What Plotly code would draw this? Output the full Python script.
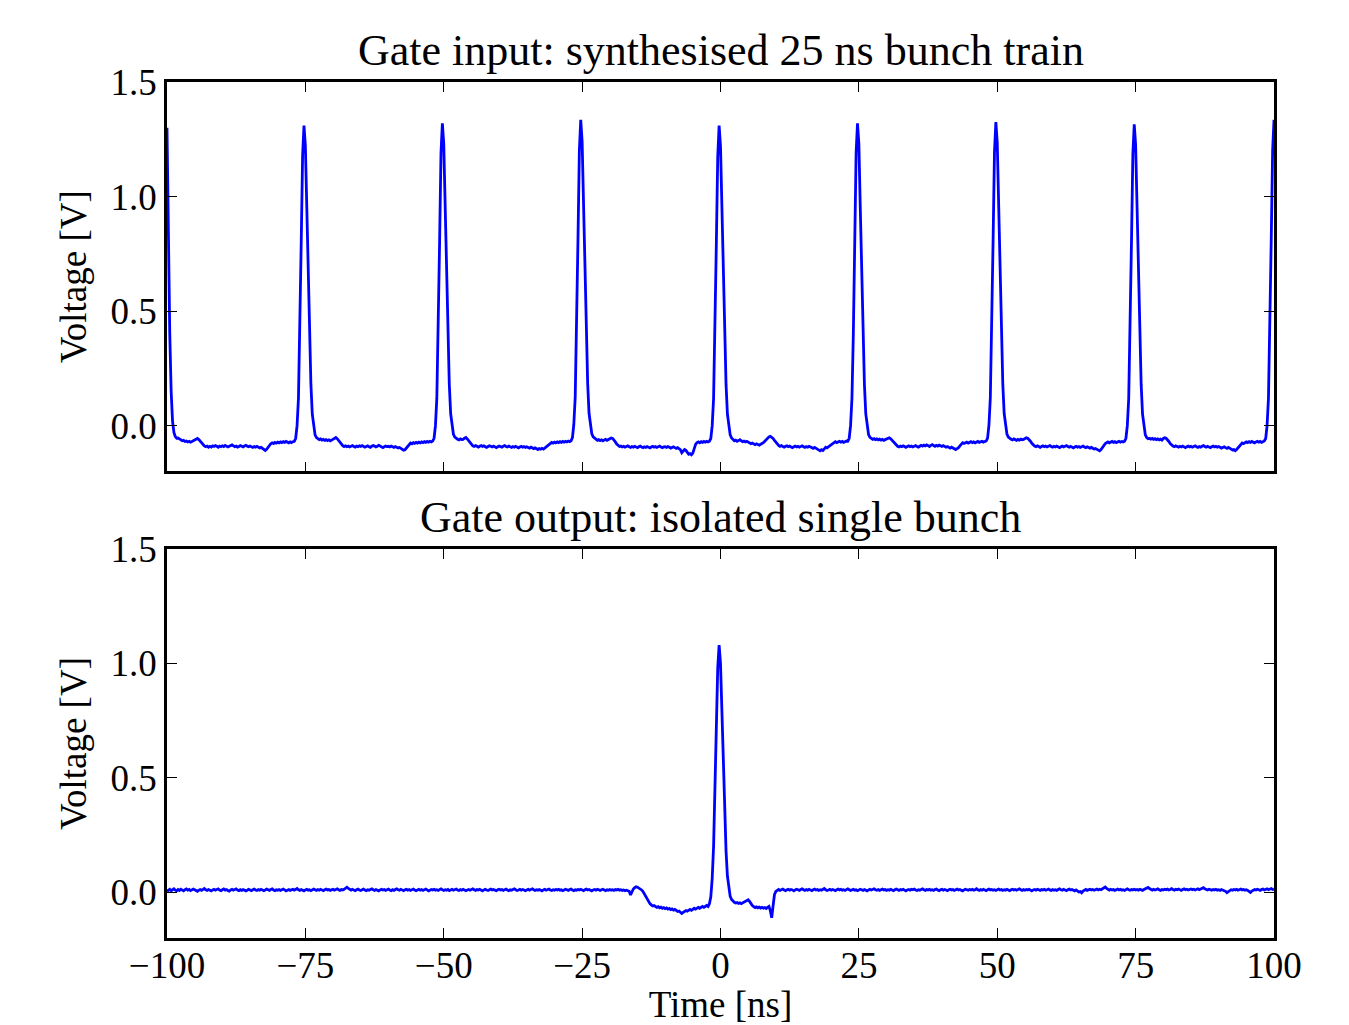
import plotly.graph_objects as go

# oscilloscope traces, sampled every 0.25 ns from -100 ns to +100 ns
time_start = -100.0
time_step = 0.25

# gate input: 25 ns bunch train [V]
volt_input = [
    1.300, 0.800, 0.400, 0.150, 0.020, -0.030, -0.048, -0.055, -0.054, -0.058, -0.062, -0.066, -0.064, -0.069, -0.067, -0.071, -0.068, -0.072, -0.069, -0.066,
    -0.063, -0.058, -0.056, -0.061, -0.068, -0.077, -0.084, -0.088, -0.092, -0.089, -0.094, -0.090, -0.093, -0.088, -0.091, -0.087, -0.090, -0.094, -0.089, -0.092,
    -0.088, -0.091, -0.086, -0.089, -0.093, -0.090, -0.087, -0.084, -0.088, -0.092, -0.089, -0.094, -0.091, -0.087, -0.090, -0.093, -0.089, -0.086, -0.090, -0.092,
    -0.089, -0.092, -0.095, -0.091, -0.094, -0.090, -0.093, -0.097, -0.095, -0.099, -0.104, -0.108, -0.103, -0.094, -0.085, -0.079, -0.075, -0.078, -0.073, -0.076,
    -0.072, -0.075, -0.071, -0.074, -0.070, -0.073, -0.069, -0.072, -0.075, -0.071, -0.074, -0.070, -0.068, -0.055, 0.000, 0.120, 0.400, 0.800, 1.180, 1.310,
    1.220, 0.950, 0.650, 0.380, 0.180, 0.050, -0.010, -0.040, -0.052, -0.058, -0.061, -0.058, -0.063, -0.060, -0.064, -0.061, -0.065, -0.062, -0.066, -0.063,
    -0.059, -0.054, -0.052, -0.057, -0.065, -0.074, -0.082, -0.087, -0.091, -0.088, -0.092, -0.089, -0.093, -0.090, -0.087, -0.091, -0.094, -0.089, -0.092, -0.088,
    -0.091, -0.087, -0.090, -0.094, -0.091, -0.088, -0.092, -0.095, -0.090, -0.087, -0.089, -0.093, -0.090, -0.086, -0.089, -0.092, -0.096, -0.092, -0.089, -0.091,
    -0.090, -0.093, -0.089, -0.092, -0.095, -0.091, -0.094, -0.097, -0.095, -0.099, -0.103, -0.107, -0.105, -0.097, -0.088, -0.080, -0.076, -0.079, -0.074, -0.077,
    -0.073, -0.076, -0.072, -0.075, -0.071, -0.074, -0.070, -0.073, -0.069, -0.072, -0.068, -0.071, -0.067, -0.055, 0.000, 0.120, 0.400, 0.800, 1.190, 1.320,
    1.230, 0.960, 0.660, 0.385, 0.182, 0.052, -0.008, -0.038, -0.050, -0.056, -0.059, -0.062, -0.058, -0.061, -0.060, -0.055, -0.052, -0.058, -0.066, -0.075,
    -0.082, -0.088, -0.091, -0.087, -0.090, -0.094, -0.090, -0.087, -0.091, -0.088, -0.092, -0.095, -0.091, -0.088, -0.090, -0.093, -0.089, -0.092, -0.096, -0.092,
    -0.089, -0.091, -0.094, -0.090, -0.087, -0.091, -0.093, -0.089, -0.092, -0.095, -0.091, -0.094, -0.090, -0.093, -0.097, -0.093, -0.090, -0.094, -0.091, -0.095,
    -0.092, -0.095, -0.098, -0.094, -0.097, -0.100, -0.097, -0.101, -0.104, -0.100, -0.103, -0.099, -0.102, -0.098, -0.093, -0.086, -0.080, -0.076, -0.073, -0.076,
    -0.072, -0.075, -0.071, -0.074, -0.070, -0.073, -0.069, -0.072, -0.068, -0.071, -0.067, -0.070, -0.066, -0.052, 0.005, 0.125, 0.405, 0.810, 1.200, 1.335,
    1.240, 0.965, 0.665, 0.390, 0.185, 0.054, -0.006, -0.036, -0.049, -0.055, -0.060, -0.064, -0.061, -0.065, -0.062, -0.066, -0.063, -0.060, -0.064, -0.061,
    -0.057, -0.054, -0.056, -0.062, -0.071, -0.080, -0.087, -0.091, -0.089, -0.093, -0.090, -0.094, -0.091, -0.088, -0.092, -0.095, -0.091, -0.094, -0.090, -0.093,
    -0.096, -0.092, -0.089, -0.093, -0.096, -0.092, -0.095, -0.091, -0.094, -0.097, -0.093, -0.090, -0.094, -0.091, -0.095, -0.092, -0.089, -0.093, -0.096, -0.093,
    -0.092, -0.095, -0.091, -0.094, -0.098, -0.095, -0.092, -0.096, -0.099, -0.096, -0.100, -0.105, -0.118, -0.112, -0.104, -0.108, -0.118, -0.125, -0.122, -0.127,
    -0.120, -0.100, -0.082, -0.074, -0.071, -0.075, -0.070, -0.073, -0.069, -0.072, -0.068, -0.071, -0.068, -0.056, 0.000, 0.118, 0.395, 0.795, 1.175, 1.310,
    1.220, 0.950, 0.650, 0.380, 0.180, 0.050, -0.010, -0.040, -0.054, -0.060, -0.066, -0.063, -0.068, -0.065, -0.061, -0.066, -0.070, -0.067, -0.071, -0.068,
    -0.072, -0.076, -0.079, -0.076, -0.080, -0.083, -0.079, -0.082, -0.085, -0.081, -0.078, -0.074, -0.068, -0.060, -0.054, -0.049, -0.047, -0.050, -0.056, -0.064,
    -0.072, -0.080, -0.086, -0.090, -0.087, -0.091, -0.094, -0.090, -0.088, -0.092, -0.089, -0.093, -0.096, -0.092, -0.089, -0.093, -0.090, -0.094, -0.091, -0.088,
    -0.092, -0.095, -0.091, -0.094, -0.090, -0.093, -0.096, -0.099, -0.095, -0.098, -0.102, -0.106, -0.110, -0.105, -0.108, -0.101, -0.094, -0.097, -0.092, -0.087,
    -0.081, -0.076, -0.073, -0.070, -0.074, -0.071, -0.068, -0.072, -0.069, -0.073, -0.070, -0.067, -0.068, -0.055, 0.000, 0.120, 0.400, 0.805, 1.190, 1.320,
    1.230, 0.955, 0.655, 0.382, 0.181, 0.051, -0.009, -0.039, -0.051, -0.057, -0.060, -0.057, -0.061, -0.058, -0.062, -0.059, -0.063, -0.060, -0.064, -0.061,
    -0.058, -0.055, -0.053, -0.057, -0.064, -0.073, -0.081, -0.087, -0.090, -0.093, -0.089, -0.092, -0.088, -0.091, -0.095, -0.091, -0.088, -0.092, -0.089, -0.093,
    -0.090, -0.087, -0.091, -0.094, -0.090, -0.086, -0.089, -0.085, -0.088, -0.084, -0.087, -0.091, -0.086, -0.083, -0.087, -0.090, -0.086, -0.089, -0.085, -0.088,
    -0.091, -0.087, -0.090, -0.094, -0.091, -0.095, -0.098, -0.094, -0.097, -0.101, -0.104, -0.100, -0.096, -0.088, -0.080, -0.075, -0.078, -0.074, -0.072, -0.076,
    -0.073, -0.070, -0.074, -0.071, -0.075, -0.072, -0.069, -0.073, -0.070, -0.068, -0.072, -0.069, -0.067, -0.054, 0.002, 0.122, 0.402, 0.808, 1.195, 1.325,
    1.235, 0.958, 0.658, 0.384, 0.183, 0.053, -0.007, -0.037, -0.050, -0.056, -0.059, -0.062, -0.058, -0.061, -0.064, -0.060, -0.063, -0.059, -0.062, -0.060,
    -0.057, -0.053, -0.055, -0.060, -0.068, -0.077, -0.084, -0.089, -0.092, -0.088, -0.091, -0.095, -0.091, -0.088, -0.092, -0.089, -0.093, -0.090, -0.087, -0.091,
    -0.094, -0.090, -0.093, -0.089, -0.092, -0.096, -0.092, -0.089, -0.093, -0.090, -0.087, -0.091, -0.094, -0.090, -0.093, -0.097, -0.093, -0.090, -0.094, -0.091,
    -0.095, -0.092, -0.089, -0.093, -0.096, -0.092, -0.095, -0.098, -0.095, -0.099, -0.102, -0.100, -0.104, -0.107, -0.110, -0.104, -0.095, -0.086, -0.079, -0.074,
    -0.071, -0.075, -0.072, -0.069, -0.073, -0.070, -0.074, -0.071, -0.068, -0.072, -0.069, -0.071, -0.068, -0.055, 0.000, 0.118, 0.398, 0.800, 1.185, 1.315,
    1.225, 0.952, 0.652, 0.381, 0.180, 0.050, -0.010, -0.040, -0.052, -0.057, -0.055, -0.059, -0.056, -0.060, -0.057, -0.061, -0.058, -0.062, -0.059, -0.063,
    -0.056, -0.053, -0.055, -0.061, -0.069, -0.078, -0.085, -0.089, -0.092, -0.088, -0.091, -0.094, -0.090, -0.093, -0.089, -0.092, -0.096, -0.092, -0.089, -0.093,
    -0.090, -0.094, -0.091, -0.088, -0.092, -0.095, -0.091, -0.094, -0.090, -0.087, -0.091, -0.094, -0.090, -0.093, -0.096, -0.092, -0.089, -0.093, -0.090, -0.094,
    -0.091, -0.094, -0.098, -0.095, -0.092, -0.096, -0.099, -0.095, -0.098, -0.102, -0.106, -0.104, -0.109, -0.104, -0.096, -0.087, -0.080, -0.076, -0.079, -0.074,
    -0.071, -0.074, -0.070, -0.073, -0.069, -0.072, -0.075, -0.071, -0.068, -0.072, -0.069, -0.073, -0.070, -0.067, -0.056, 0.000, 0.120, 0.400, 0.810, 1.200,
    1.335,
]

# gate output: isolated single bunch [V]
volt_output = [
    0.004, 0.009, 0.013, 0.007, 0.011, 0.015, 0.009, 0.006, 0.012, 0.008, 0.013, 0.010, 0.006, 0.011, 0.014, 0.009, 0.012, 0.007, 0.010, 0.014,
    0.011, 0.007, 0.004, 0.009, 0.012, 0.008, 0.013, 0.016, 0.011, 0.008, 0.012, 0.009, 0.006, 0.010, 0.013, 0.009, 0.011, 0.015, 0.010, 0.007,
    0.011, 0.014, 0.009, 0.012, 0.008, 0.005, 0.010, 0.013, 0.009, 0.012, 0.015, 0.010, 0.007, 0.011, 0.008, 0.012, 0.010, 0.006, 0.009, 0.013,
    0.010, 0.007, 0.011, 0.014, 0.010, 0.008, 0.012, 0.009, 0.013, 0.011, 0.007, 0.010, 0.014, 0.011, 0.008, 0.012, 0.015, 0.010, 0.007, 0.011,
    0.009, 0.012, 0.008, 0.011, 0.014, 0.010, 0.006, 0.009, 0.012, 0.008, 0.011, 0.013, 0.009, 0.012, 0.016, 0.011, 0.008, 0.012, 0.009, 0.006,
    0.010, 0.013, 0.009, 0.011, 0.007, 0.010, 0.014, 0.011, 0.008, 0.012, 0.009, 0.013, 0.010, 0.007, 0.011, 0.014, 0.010, 0.012, 0.008, 0.011,
    0.013, 0.009, 0.012, 0.015, 0.011, 0.008, 0.012, 0.010, 0.013, 0.016, 0.022, 0.017, 0.012, 0.009, 0.013, 0.010, 0.007, 0.011, 0.014, 0.010,
    0.008, 0.011, 0.014, 0.010, 0.007, 0.011, 0.009, 0.012, 0.015, 0.011, 0.008, 0.012, 0.009, 0.006, 0.010, 0.013, 0.010, 0.012, 0.008, 0.011,
    0.014, 0.010, 0.007, 0.011, 0.008, 0.012, 0.015, 0.011, 0.009, 0.013, 0.010, 0.007, 0.011, 0.013, 0.009, 0.012, 0.008, 0.011, 0.014, 0.010,
    0.007, 0.010, 0.013, 0.009, 0.012, 0.008, 0.011, 0.014, 0.010, 0.006, 0.009, 0.012, 0.010, 0.013, 0.009, 0.011, 0.008, 0.012, 0.015, 0.011,
    0.008, 0.011, 0.009, 0.012, 0.007, 0.010, 0.013, 0.009, 0.011, 0.014, 0.010, 0.008, 0.012, 0.009, 0.013, 0.011, 0.007, 0.010, 0.012, 0.009,
    0.012, 0.015, 0.011, 0.008, 0.012, 0.010, 0.013, 0.009, 0.006, 0.010, 0.013, 0.010, 0.008, 0.011, 0.014, 0.010, 0.012, 0.009, 0.007, 0.011,
    0.013, 0.010, 0.012, 0.008, 0.011, 0.014, 0.010, 0.007, 0.011, 0.009, 0.012, 0.015, 0.011, 0.008, 0.010, 0.013, 0.009, 0.012, 0.010, 0.007,
    0.010, 0.013, 0.009, 0.012, 0.015, 0.011, 0.008, 0.011, 0.009, 0.012, 0.010, 0.006, 0.010, 0.013, 0.009, 0.011, 0.014, 0.010, 0.008, 0.011,
    0.009, 0.012, 0.010, 0.013, 0.009, 0.011, 0.007, 0.010, 0.013, 0.011, 0.008, 0.012, 0.014, 0.010, 0.007, 0.011, 0.009, 0.012, 0.010, 0.013,
    0.010, 0.007, 0.011, 0.014, 0.010, 0.012, 0.009, 0.006, 0.010, 0.012, 0.009, 0.013, 0.011, 0.008, 0.011, 0.013, 0.010, 0.007, 0.011, 0.009,
    0.012, 0.009, 0.011, 0.008, 0.012, 0.010, 0.013, 0.009, 0.011, 0.008, 0.010, 0.007, 0.009, 0.006, 0.004, -0.012, 0.002, 0.014, 0.020, 0.024,
    0.022, 0.019, 0.016, 0.010, 0.003, -0.008, -0.020, -0.032, -0.042, -0.050, -0.055, -0.060, -0.058, -0.063, -0.066, -0.063, -0.068, -0.065, -0.070, -0.067,
    -0.072, -0.069, -0.074, -0.071, -0.076, -0.073, -0.078, -0.075, -0.080, -0.084, -0.082, -0.087, -0.093, -0.088, -0.084, -0.080, -0.083, -0.078, -0.075, -0.079,
    -0.073, -0.070, -0.074, -0.069, -0.066, -0.070, -0.065, -0.062, -0.066, -0.061, -0.058, -0.062, -0.050, -0.020, 0.060, 0.200, 0.420, 0.720, 0.980, 1.080,
    1.000, 0.800, 0.570, 0.350, 0.180, 0.070, 0.012, -0.018, -0.032, -0.040, -0.044, -0.047, -0.045, -0.049, -0.046, -0.050, -0.047, -0.043, -0.038, -0.035,
    -0.033, -0.040, -0.050, -0.058, -0.063, -0.067, -0.064, -0.068, -0.065, -0.069, -0.066, -0.070, -0.067, -0.071, -0.066, -0.062, -0.080, -0.112, -0.060, -0.010,
    0.004, 0.009, 0.012, 0.008, 0.011, 0.014, 0.010, 0.007, 0.011, 0.013, 0.009, 0.012, 0.010, 0.006, 0.010, 0.013, 0.011, 0.008, 0.012, 0.015,
    0.011, 0.008, 0.012, 0.009, 0.013, 0.010, 0.007, 0.011, 0.014, 0.010, 0.012, 0.008, 0.011, 0.009, 0.013, 0.016, 0.011, 0.008, 0.010, 0.013,
    0.009, 0.012, 0.010, 0.007, 0.011, 0.014, 0.010, 0.013, 0.009, 0.011, 0.008, 0.012, 0.015, 0.011, 0.008, 0.010, 0.013, 0.009, 0.011, 0.007,
    0.010, 0.013, 0.011, 0.008, 0.012, 0.009, 0.006, 0.010, 0.013, 0.010, 0.012, 0.015, 0.011, 0.009, 0.012, 0.008, 0.011, 0.014, 0.010, 0.012,
    0.008, 0.011, 0.009, 0.013, 0.010, 0.007, 0.011, 0.014, 0.011, 0.008, 0.012, 0.010, 0.013, 0.009, 0.006, 0.010, 0.012, 0.009, 0.013, 0.011,
    0.014, 0.010, 0.008, 0.011, 0.009, 0.012, 0.015, 0.011, 0.008, 0.012, 0.010, 0.013, 0.009, 0.011, 0.008, 0.012, 0.014, 0.010, 0.007, 0.011,
    0.013, 0.009, 0.012, 0.010, 0.007, 0.011, 0.013, 0.010, 0.012, 0.008, 0.011, 0.014, 0.010, 0.012, 0.009, 0.006, 0.010, 0.013, 0.011, 0.009,
    0.012, 0.010, 0.013, 0.009, 0.011, 0.015, 0.011, 0.008, 0.012, 0.009, 0.013, 0.010, 0.007, 0.011, 0.014, 0.010, 0.012, 0.009, 0.011, 0.008,
    0.011, 0.014, 0.010, 0.012, 0.008, 0.011, 0.009, 0.013, 0.010, 0.007, 0.011, 0.013, 0.010, 0.012, 0.009, 0.012, 0.015, 0.011, 0.008, 0.012,
    0.009, 0.012, 0.010, 0.013, 0.009, 0.006, 0.010, 0.012, 0.009, 0.013, 0.011, 0.008, 0.012, 0.010, 0.013, 0.009, 0.011, 0.014, 0.010, 0.008,
    0.012, 0.009, 0.011, 0.008, 0.012, 0.015, 0.011, 0.009, 0.013, 0.010, 0.007, 0.011, 0.014, 0.010, 0.012, 0.009, 0.006, 0.010, 0.006, 0.001,
    0.003, -0.002, 0.005, 0.009, 0.012, 0.008, 0.011, 0.013, 0.010, 0.012, 0.009, 0.011, 0.014, 0.010, 0.013, 0.011, 0.015, 0.018, 0.023, 0.017,
    0.012, 0.009, 0.013, 0.010, 0.012, 0.008, 0.011, 0.014, 0.010, 0.013, 0.009, 0.011, 0.008, 0.012, 0.015, 0.011, 0.009, 0.012, 0.010, 0.013,
    0.010, 0.012, 0.009, 0.013, 0.011, 0.008, 0.012, 0.014, 0.017, 0.021, 0.016, 0.012, 0.009, 0.013, 0.010, 0.012, 0.015, 0.011, 0.008, 0.012,
    0.010, 0.013, 0.011, 0.014, 0.010, 0.012, 0.016, 0.012, 0.009, 0.013, 0.011, 0.014, 0.010, 0.008, 0.012, 0.015, 0.011, 0.013, 0.010, 0.012,
    0.014, 0.011, 0.013, 0.010, 0.012, 0.015, 0.011, 0.013, 0.016, 0.020, 0.015, 0.012, 0.010, 0.013, 0.011, 0.009, 0.012, 0.010, 0.013, 0.009,
    0.011, 0.008, 0.012, 0.010, 0.007, 0.004, -0.002, 0.003, 0.008, 0.011, 0.009, 0.012, 0.010, 0.013, 0.009, 0.011, 0.014, 0.010, 0.012, 0.009,
    0.011, 0.008, 0.004, -0.001, 0.005, 0.009, 0.012, 0.010, 0.013, 0.011, 0.008, 0.012, 0.014, 0.010, 0.012, 0.015, 0.011, 0.013, 0.016, 0.012,
    0.014,
]

assert len(volt_input) == 801 and len(volt_output) == 801

time_ticks = [-100, -75, -50, -25, 0, 25, 50, 75, 100]
time_labels = ["\u2212100", "\u221275", "\u221250", "\u221225", "0", "25", "50", "75", "100"]
volt_ticks = [0.0, 0.5, 1.0, 1.5]
volt_labels = ["0.0", "0.5", "1.0", "1.5"]

titles = ["Gate input: synthesised 25 ns bunch train", "Gate output: isolated single bunch"]

FONT = "Liberation Serif"

fig = go.Figure()
fig.add_trace(go.Scatter(x0=time_start, dx=time_step, y=volt_input, mode="lines",
                         line=dict(color="#0000ff", width=2.8), xaxis="x", yaxis="y"))
fig.add_trace(go.Scatter(x0=time_start, dx=time_step, y=volt_output, mode="lines",
                         line=dict(color="#0000ff", width=2.8), xaxis="x2", yaxis="y2"))

axis_common = dict(
    showline=True, linecolor="black", linewidth=2.5, mirror="allticks",
    ticks="inside", ticklen=10, tickwidth=1.3, tickcolor="black",
    showgrid=False, zeroline=False, automargin=False,
    tickfont=dict(family=FONT, size=37, color="black"),
)

# the page body adds an 8 px margin, so the figure is made 8 px smaller
fig.update_layout(
    width=1341, height=1017,
    margin=dict(l=159, r=75, t=74, b=87),
    paper_bgcolor="white", plot_bgcolor="white",
    showlegend=False,
    font=dict(family=FONT, color="black"),
    xaxis=dict(axis_common, domain=[0, 1], anchor="y", range=[-100, 100],
               tickvals=time_ticks, showticklabels=False),
    yaxis=dict(axis_common, domain=[0.545, 1], anchor="x", range=[-0.2, 1.5],
               tickvals=volt_ticks, ticktext=volt_labels,
               title=dict(text="Voltage [V]", font=dict(family=FONT, size=37), standoff=13)),
    xaxis2=dict(axis_common, domain=[0, 1], anchor="y2", range=[-100, 100],
                tickvals=time_ticks, ticktext=time_labels, ticklabelstandoff=-7,
                title=dict(text="Time [ns]", font=dict(family=FONT, size=37), standoff=7)),
    yaxis2=dict(axis_common, domain=[0, 0.4544], anchor="x2", range=[-0.2, 1.5],
                tickvals=volt_ticks, ticktext=volt_labels,
                title=dict(text="Voltage [V]", font=dict(family=FONT, size=37), standoff=13)),
    annotations=[
        dict(text=titles[0], xref="paper", yref="paper", x=0.5, y=1.0,
             xanchor="center", yanchor="bottom", yshift=5, showarrow=False,
             font=dict(family=FONT, size=44, color="black")),
        dict(text=titles[1], xref="paper", yref="paper", x=0.5, y=0.4544,
             xanchor="center", yanchor="bottom", yshift=5, showarrow=False,
             font=dict(family=FONT, size=44, color="black")),
    ],
)

fig.write_html("out.html")
